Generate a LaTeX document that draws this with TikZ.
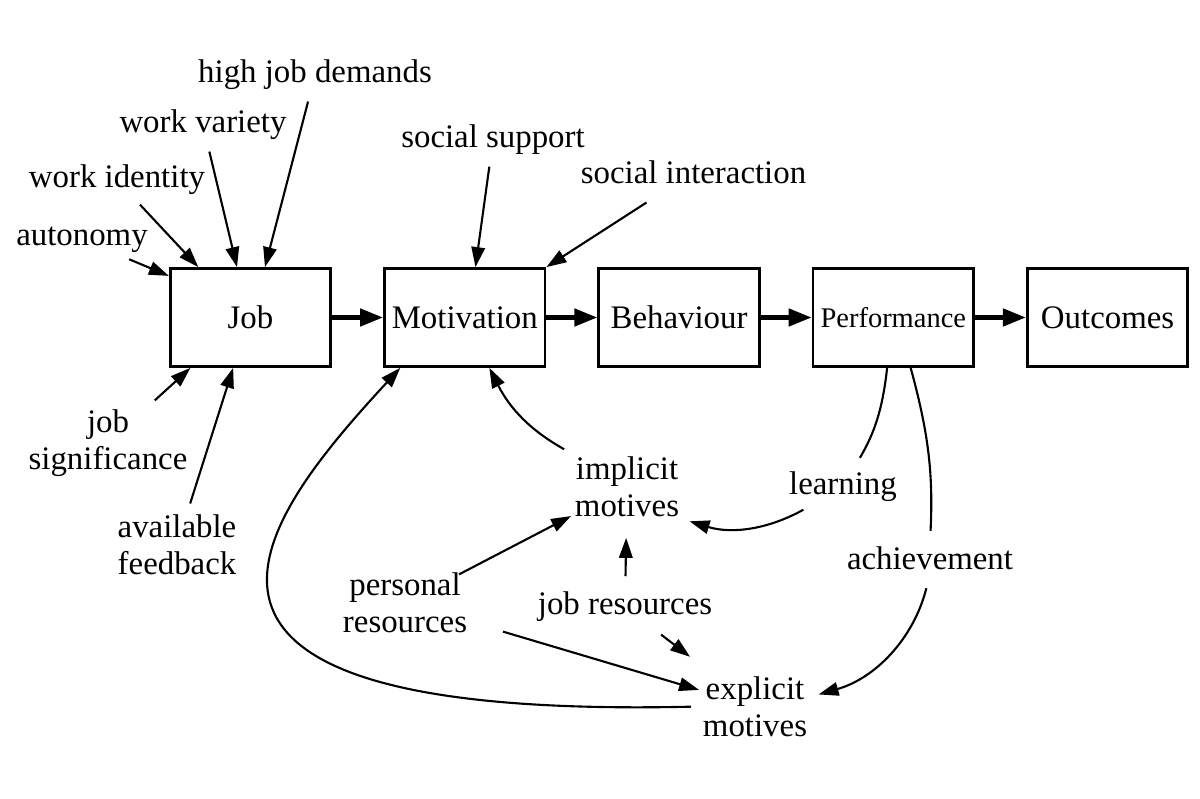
\documentclass[tikz,border=0pt]{standalone}
\usepackage{fontspec}
\setmainfont{Liberation Serif}
\usetikzlibrary{arrows.meta, positioning}

\begin{document}
\begin{tikzpicture}[x=0.02cm, y=0.02cm, every node/.style={font={\fontsize{18.7}{21}\selectfont}, inner sep=2pt},
    box/.style={draw, line width=1.6pt, minimum width=3.21cm, minimum height=1.96cm},
    arr/.style={-{Triangle[length=4mm, width=2.7mm]}, line width=1.2pt, shorten <=1.6mm},
    bigarr/.style={-{Triangle[length=4.6mm, width=3.4mm]}, line width=2.6pt}]
    \useasboundingbox (0,0) rectangle (1200,798);

    % main chain
    \node[box] (job) at (250.5,480.5) {Job};
    \node[box] (motivation) [right=1.02cm of job] {Motivation};
    \node[box] (behaviour) [right=1.02cm of motivation] {Behaviour};
    \node[box, font={\fontsize{16.2}{19}\selectfont}] (performance) [right=1.02cm of behaviour] {Performance};
    \node[box] (outcomes) [right=1.02cm of performance] {Outcomes};

    % job characteristics
    \node (demands) at (315,723) {high job demands};
    \node (variety) at (203,673) {work variety};
    \node (identity) at (117,618) {work identity};
    \node (autonomy) at (82,558.5) {autonomy};
    \node[align=center] (significance) at (108,355) {job\\significance};
    \node[align=center] (feedback) at (177,253) {available\\feedback};

    % social side
    \node (support) at (493,658) {social support};
    \node (interaction) at (693.5,625.8) {social interaction};

    % motives and resources
    \node[align=center] (implicit) at (627,311) {implicit\\motives};
    \node[align=center] (explicit) at (755,91.5) {explicit\\motives};
    \node[align=center] (personal) at (405,195.5) {personal\\resources};
    \node (jobres) at (625,191) {job resources};
    \node (learning) at (843,311) {learning};
    \node (achievement) at (930,239.8) {achievement};

    \draw[bigarr] (job) -- (motivation);
    \draw[bigarr] (motivation) -- (behaviour);
    \draw[bigarr] (behaviour) -- (performance);
    \draw[bigarr] (performance) -- (outcomes);

    \draw[arr] (autonomy) -- (job.153);
    \draw[arr] (identity) -- (job.136);
    \draw[arr] (variety) -- (job.105);
    \draw[arr] (demands) -- (job.74);
    \draw[arr] (significance) -- (job.220);
    \draw[arr] (feedback) -- (job.-109);
    \draw[arr] (support) -- (motivation.78);
    \draw[arr, shorten <=0.55cm] (interaction) -- (motivation.north east);

    \draw[arr] (implicit.north west) to[bend left=17] (motivation.-64);
    \draw[arr] (explicit.west) .. controls (100,78) and (260,278) .. (motivation.218);
    \draw[arr, shorten <=1.22cm] (personal.center) -- (implicit);
    \draw[arr, shorten <=0.67cm] (personal) -- (explicit);
    \draw[arr, shorten <=0.24cm, shorten >=0.34cm] (jobres) -- (implicit);
    \draw[arr, shorten <=0.29cm, shorten >=0.52cm] (jobres) -- (explicit);
    \draw[arr, shorten >=0.14cm] (learning.210) to[bend left=23] (implicit.-30);
    \draw[line width=1.2pt, shorten >=0.24cm] (performance.-97) to[bend left=12] (learning.60);
    \draw[line width=1.2pt, shorten >=0.24cm] (performance.-71) to[bend left=9] (achievement.north);
    \draw[arr, shorten <=0.3cm, shorten >=0.16cm] (achievement.south) to[bend left=30] (explicit.10);
\end{tikzpicture}
\end{document}
